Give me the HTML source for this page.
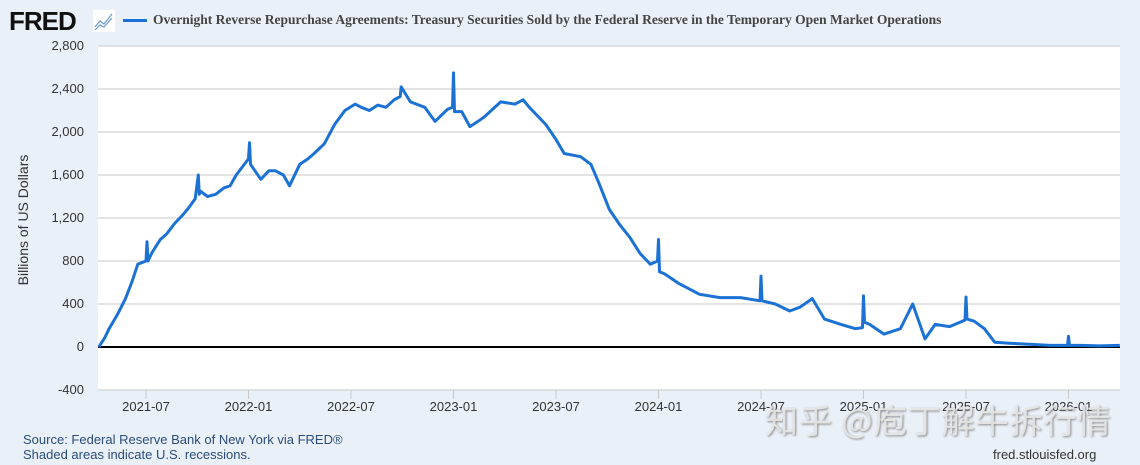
<!DOCTYPE html>
<html><head><meta charset="utf-8"><style>
body{margin:0;width:1140px;height:465px;background:#eaf0f8;overflow:hidden;font-family:"Liberation Sans",sans-serif;position:relative}
.t{position:absolute}
</style></head><body>
<div class="t" style="left:9px;top:6px;font:bold 26px 'Liberation Sans',sans-serif;letter-spacing:-1px;color:#111">FRED</div>
<svg class="t" style="left:93px;top:10px" width="22" height="22"><rect width="22" height="22" fill="#fff"/><polyline points="2,17 7,11 11,14 19,4" fill="none" stroke="#6a9bd0" stroke-width="1.2"/><polyline points="2,20 7,15 11,17 19,8" fill="none" stroke="#6a9bd0" stroke-width="1.2"/></svg>
<div class="t" style="left:123px;top:19px;width:24px;height:3px;background:#1b72d4"></div>
<div class="t" style="left:153px;top:12px;font:bold 13.5px 'Liberation Serif',serif;color:#444">Overnight Reverse Repurchase Agreements: Treasury Securities Sold by the Federal Reserve in the Temporary Open Market Operations</div>
<div class="t" style="left:23px;top:220px;transform:translate(-50%,-50%) rotate(-90deg);font-size:14px;color:#333;white-space:nowrap">Billions of US Dollars</div>
<svg id="c" class="t" style="left:0;top:0" width="1140" height="465"></svg>
<div class="t" style="left:765px;top:395px;font:33px 'Noto Sans CJK SC',sans-serif;color:rgba(235,235,235,0.85);text-shadow:1px 1px 2px #888;letter-spacing:1px">知乎 @庖丁解牛拆行情</div>
<div class="t" style="left:23px;top:432px;font-size:13px;color:#2a4d7a">Source: Federal Reserve Bank of New York via FRED®</div>
<div class="t" style="left:23px;top:447px;font-size:13px;color:#2a4d7a">Shaded areas indicate U.S. recessions.</div>
<div class="t" style="left:993px;top:447px;font-size:13px;color:#333">fred.stlouisfed.org</div>
<script>
const yTicks=[-400,0,400,800,1200,1600,2000,2400,2800];
const xTickLabels=["2021-07","2022-01","2022-07","2023-01","2023-07","2024-01","2024-07","2025-01","2025-07","2026-01"];
const xTickYears=[2021.5,2022,2022.5,2023,2023.5,2024,2024.5,2025,2025.5,2026];
const dates=[2021.27,2021.30,2021.32,2021.36,2021.40,2021.43,2021.46,2021.50,2021.505,2021.51,2021.53,2021.57,2021.60,2021.64,2021.68,2021.71,2021.74,2021.755,2021.76,2021.765,2021.80,2021.84,2021.88,2021.91,2021.94,2021.96,2022.0,2022.005,2022.01,2022.06,2022.10,2022.13,2022.17,2022.20,2022.25,2022.29,2022.32,2022.37,2022.42,2022.47,2022.52,2022.55,2022.59,2022.63,2022.67,2022.71,2022.74,2022.745,2022.79,2022.86,2022.89,2022.91,2022.97,2022.995,2023.0,2023.005,2023.04,2023.08,2023.12,2023.15,2023.23,2023.30,2023.34,2023.37,2023.45,2023.50,2023.54,2023.62,2023.67,2023.71,2023.76,2023.81,2023.86,2023.91,2023.96,2023.995,2024.0,2024.005,2024.03,2024.10,2024.15,2024.20,2024.30,2024.40,2024.495,2024.50,2024.505,2024.57,2024.64,2024.69,2024.75,2024.81,2024.89,2024.96,2024.995,2025.0,2025.005,2025.03,2025.10,2025.18,2025.24,2025.30,2025.35,2025.42,2025.495,2025.50,2025.505,2025.54,2025.59,2025.64,2025.71,2025.81,2025.91,2025.995,2026.0,2026.005,2026.06,2026.15,2026.25];
const values=[0,90,170,300,450,600,770,800,980,800,880,1000,1050,1150,1230,1300,1380,1600,1420,1450,1400,1420,1480,1500,1600,1650,1750,1900,1700,1560,1640,1640,1600,1500,1700,1750,1800,1890,2070,2200,2260,2230,2200,2250,2230,2300,2330,2420,2280,2230,2150,2100,2210,2230,2550,2190,2190,2050,2100,2140,2280,2260,2300,2230,2070,1930,1800,1770,1700,1520,1280,1140,1020,870,770,800,1000,700,680,590,540,490,460,460,430,660,430,400,335,370,450,260,210,170,180,475,230,210,120,170,400,75,210,190,250,465,260,240,170,45,35,25,15,15,100,15,15,10,15];
const svg=document.getElementById('c'),NS='http://www.w3.org/2000/svg';
const L=98,R=1120,T=46,B=390;
const yS=v=>347-(v)*43/400;
const xS=t=>146+(t-2021.5)*205;
function mk(tag,a){const e=document.createElementNS(NS,tag);for(const k in a)e.setAttribute(k,a[k]);svg.appendChild(e);return e;}
const bg=mk('rect',{x:L,y:T,width:R-L,height:B-T,fill:'#fff'});


yTicks.forEach(v=>{
 const g=mk('line',{x1:L,x2:R,y1:yS(v),y2:yS(v),stroke:v===0?'#000':'#c8c8c8','stroke-width':v===0?2:1});
 
 
 const t=mk('text',{x:84,y:yS(v)+4,'text-anchor':'end','font-size':13,fill:'#333','font-family':'Liberation Sans'});
 t.textContent=v.toLocaleString('en-US');
 
 
});
xTickYears.forEach((y,i)=>{
 const g=mk('line',{x1:xS(y),x2:xS(y),y1:B,y2:B+9,stroke:'#c8c8c8'});
 
 
 const t=mk('text',{x:xS(y),y:411,'text-anchor':'middle','font-size':13,fill:'#333','font-family':'Liberation Sans'});
 t.textContent=xTickLabels[i];
 
 
});
const ln=mk('polyline',{points:dates.map((d,i)=>xS(d).toFixed(1)+','+yS(values[i]).toFixed(1)).join(' '),fill:'none',stroke:'#1b72d4','stroke-width':3,'stroke-linejoin':'round'});


</script>
</body></html>
